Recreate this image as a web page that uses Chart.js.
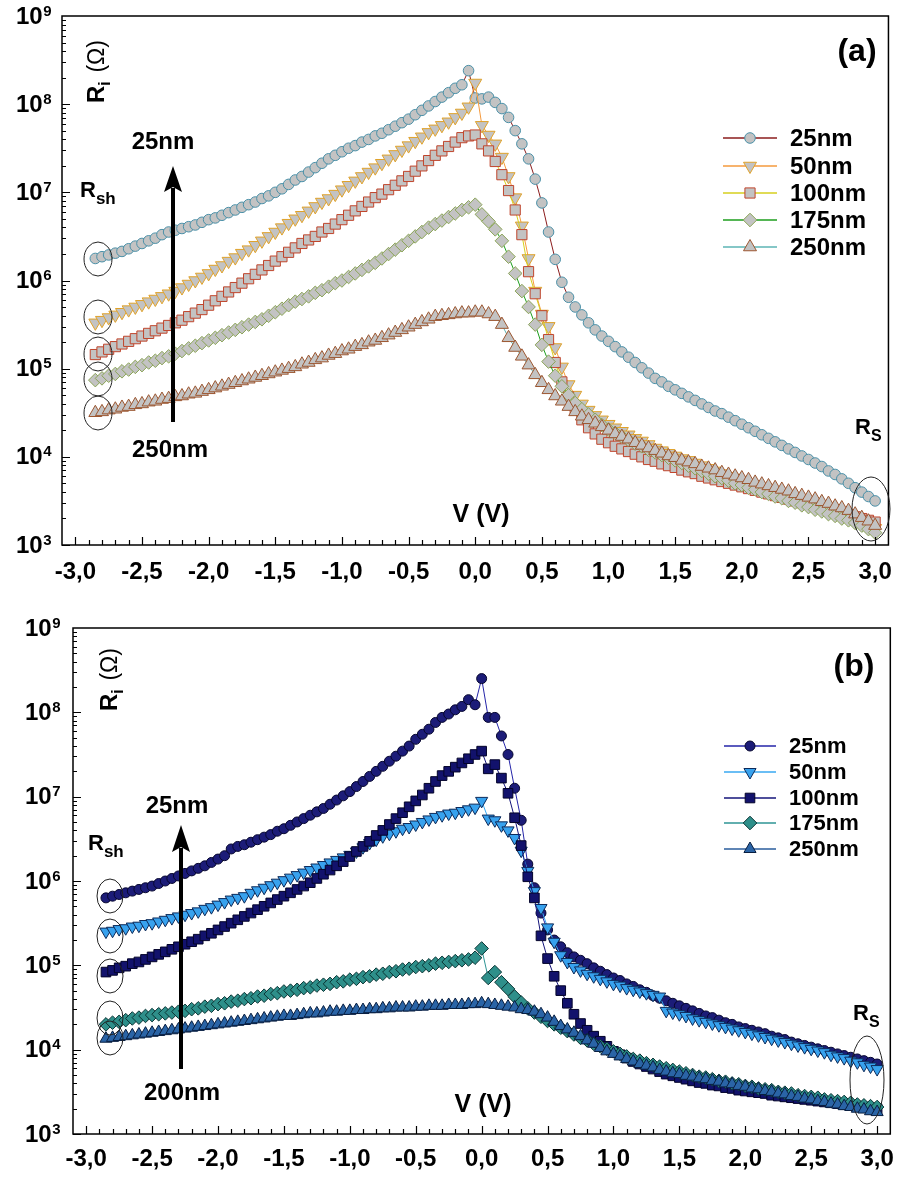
<!DOCTYPE html>
<html>
<head>
<meta charset="utf-8">
<script src="https://cdn.jsdelivr.net/npm/chart.js@4.4.1/dist/chart.umd.min.js"></script>
<style>
  body { margin: 0; background: #fff; }
  #wrap { position: relative; width: 905px; height: 1180px; }
  canvas { position: absolute; left: 0; }
</style>
</head>
<body>
<div id="wrap">
  <canvas id="chartA" width="905" height="600" style="top:0"></canvas>
  <canvas id="chartB" width="905" height="580" style="top:600px"></canvas>
</div>
<script>
// voltage sweep (V)
const volts = [-2.85,-2.8,-2.75,-2.7,-2.65,-2.6,-2.55,-2.5,-2.45,-2.4,
  -2.35,-2.3,-2.25,-2.2,-2.15,-2.1,-2.05,-2,-1.95,-1.9,
  -1.85,-1.8,-1.75,-1.7,-1.65,-1.6,-1.55,-1.5,-1.45,-1.4,
  -1.35,-1.3,-1.25,-1.2,-1.15,-1.1,-1.05,-1,-0.95,-0.9,
  -0.85,-0.8,-0.75,-0.7,-0.65,-0.6,-0.55,-0.5,-0.45,-0.4,
  -0.35,-0.3,-0.25,-0.2,-0.15,-0.1,-0.05,0,0.05,0.1,
  0.15,0.2,0.25,0.3,0.35,0.4,0.45,0.5,0.55,0.6,
  0.65,0.7,0.75,0.8,0.85,0.9,0.95,1,1.05,1.1,
  1.15,1.2,1.25,1.3,1.35,1.4,1.45,1.5,1.55,1.6,
  1.65,1.7,1.75,1.8,1.85,1.9,1.95,2,2.05,2.1,
  2.15,2.2,2.25,2.3,2.35,2.4,2.45,2.5,2.55,2.6,
  2.65,2.7,2.75,2.8,2.85,2.9,2.95,3];

const seriesNames = ['25nm', '50nm', '100nm', '175nm', '250nm'];

// panel (a): log10 of Ri (ohm)
const a25 = [6.25,6.27,6.29,6.31,6.33,6.36,6.39,6.42,6.45,6.48,
  6.52,6.55,6.57,6.59,6.61,6.63,6.66,6.69,6.71,6.74,
  6.77,6.80,6.83,6.86,6.89,6.93,6.96,7.00,7.04,7.09,
  7.14,7.18,7.23,7.28,7.33,7.38,7.42,7.46,7.50,7.53,
  7.57,7.60,7.64,7.67,7.71,7.75,7.79,7.83,7.88,7.93,
  7.98,8.03,8.08,8.13,8.18,8.22,8.38,8.07,8.06,8.08,
  8.02,7.95,7.85,7.70,7.55,7.38,7.15,6.88,6.55,6.24,
  5.98,5.81,5.70,5.61,5.52,5.44,5.37,5.31,5.25,5.19,
  5.13,5.07,5.01,4.95,4.89,4.85,4.80,4.76,4.72,4.68,
  4.64,4.60,4.56,4.52,4.49,4.45,4.41,4.37,4.33,4.29,
  4.25,4.21,4.17,4.13,4.09,4.05,4.01,3.97,3.93,3.89,
  3.84,3.80,3.75,3.70,3.65,3.60,3.55,3.50];
const a50 = [5.52,5.55,5.58,5.61,5.64,5.67,5.70,5.73,5.76,5.79,
  5.82,5.85,5.88,5.92,5.96,6.00,6.04,6.08,6.13,6.17,
  6.22,6.26,6.31,6.35,6.40,6.45,6.50,6.55,6.60,6.65,
  6.70,6.74,6.79,6.84,6.89,6.93,6.98,7.03,7.08,7.13,
  7.18,7.23,7.28,7.33,7.38,7.43,7.48,7.53,7.58,7.63,
  7.68,7.72,7.76,7.80,7.85,7.90,7.97,8.24,7.76,7.65,
  7.55,7.40,7.18,6.94,6.62,6.25,5.88,5.62,5.48,5.24,
  5.02,4.82,4.70,4.60,4.53,4.47,4.42,4.37,4.33,4.29,
  4.25,4.21,4.18,4.14,4.10,4.07,4.04,4.01,3.98,3.96,
  3.93,3.90,3.87,3.84,3.81,3.78,3.76,3.73,3.70,3.67,
  3.64,3.62,3.59,3.56,3.54,3.51,3.48,3.46,3.43,3.41,
  3.38,3.35,3.33,3.30,3.27,3.25,3.22,3.19];
const a100 = [5.16,5.19,5.22,5.25,5.28,5.31,5.34,5.37,5.40,5.43,
  5.46,5.49,5.52,5.55,5.59,5.63,5.67,5.72,5.77,5.82,
  5.87,5.92,5.97,6.02,6.07,6.12,6.17,6.22,6.27,6.32,
  6.37,6.42,6.46,6.50,6.55,6.59,6.64,6.69,6.74,6.79,
  6.84,6.89,6.94,6.98,7.03,7.08,7.13,7.18,7.24,7.30,
  7.36,7.42,7.47,7.52,7.57,7.62,7.64,7.65,7.55,7.47,
  7.35,7.20,7.02,6.80,6.52,6.10,5.85,5.60,5.33,5.07,
  4.85,4.68,4.55,4.42,4.33,4.26,4.20,4.16,4.12,4.09,
  4.06,4.03,4.00,3.97,3.95,3.92,3.90,3.88,3.85,3.83,
  3.81,3.78,3.76,3.74,3.72,3.70,3.68,3.66,3.64,3.62,
  3.60,3.58,3.56,3.54,3.52,3.50,3.48,3.46,3.44,3.42,
  3.40,3.38,3.36,3.34,3.32,3.30,3.28,3.26];
const a175 = [4.87,4.89,4.92,4.94,4.97,4.99,5.02,5.04,5.07,5.09,
  5.12,5.14,5.17,5.20,5.23,5.26,5.29,5.32,5.35,5.38,
  5.41,5.44,5.47,5.50,5.53,5.56,5.60,5.64,5.68,5.72,
  5.76,5.79,5.82,5.86,5.89,5.93,5.97,6.00,6.04,6.08,
  6.12,6.16,6.20,6.25,6.30,6.35,6.40,6.45,6.50,6.55,
  6.60,6.64,6.68,6.72,6.76,6.80,6.83,6.86,6.75,6.67,
  6.58,6.45,6.27,6.08,5.88,5.70,5.50,5.27,5.08,4.92,
  4.80,4.70,4.61,4.54,4.48,4.42,4.36,4.31,4.27,4.23,
  4.19,4.15,4.12,4.08,4.05,4.02,3.99,3.96,3.93,3.90,
  3.87,3.84,3.81,3.78,3.76,3.73,3.70,3.68,3.65,3.63,
  3.60,3.58,3.55,3.53,3.50,3.48,3.45,3.43,3.40,3.38,
  3.35,3.33,3.30,3.28,3.25,3.22,3.18,3.14];
const a250 = [4.50,4.51,4.53,4.54,4.56,4.57,4.59,4.60,4.62,4.63,
  4.65,4.66,4.68,4.69,4.71,4.72,4.74,4.76,4.78,4.80,
  4.82,4.84,4.86,4.88,4.90,4.92,4.94,4.96,4.98,5.00,
  5.02,5.05,5.07,5.10,5.12,5.15,5.17,5.20,5.22,5.25,
  5.27,5.30,5.32,5.35,5.38,5.41,5.44,5.47,5.50,5.53,
  5.56,5.59,5.60,5.61,5.62,5.63,5.63,5.64,5.64,5.62,
  5.59,5.50,5.35,5.24,5.14,5.04,4.93,4.84,4.76,4.69,
  4.63,4.57,4.51,4.46,4.42,4.38,4.34,4.30,4.26,4.23,
  4.20,4.16,4.13,4.10,4.07,4.04,4.01,3.99,3.96,3.94,
  3.92,3.89,3.87,3.85,3.82,3.80,3.78,3.76,3.74,3.71,
  3.69,3.67,3.65,3.63,3.61,3.58,3.56,3.54,3.52,3.49,
  3.47,3.44,3.42,3.39,3.35,3.31,3.27,3.22];

// panel (b): log10 of Ri (ohm)
const b25 = [5.80,5.82,5.84,5.86,5.88,5.90,5.92,5.94,5.97,6.00,
  6.03,6.06,6.09,6.12,6.15,6.18,6.22,6.26,6.30,6.38,
  6.41,6.43,6.46,6.49,6.52,6.55,6.59,6.62,6.66,6.70,
  6.74,6.78,6.82,6.86,6.91,6.96,7.01,7.06,7.12,7.18,
  7.24,7.30,7.36,7.42,7.48,7.54,7.60,7.68,7.74,7.80,
  7.88,7.94,7.98,8.03,8.07,8.15,8.09,8.40,7.94,7.94,
  7.72,7.50,7.10,6.72,6.20,5.92,5.62,5.42,5.30,5.22,
  5.15,5.10,5.06,5.02,4.97,4.93,4.89,4.85,4.82,4.78,
  4.75,4.71,4.68,4.64,4.61,4.58,4.55,4.52,4.49,4.46,
  4.43,4.40,4.38,4.35,4.32,4.30,4.27,4.25,4.23,4.21,
  4.19,4.16,4.14,4.12,4.09,4.07,4.05,4.03,4.01,3.99,
  3.97,3.95,3.93,3.91,3.89,3.87,3.85,3.83];
const b50 = [5.40,5.41,5.43,5.44,5.46,5.47,5.49,5.50,5.52,5.54,
  5.56,5.58,5.60,5.62,5.64,5.67,5.69,5.72,5.75,5.78,
  5.80,5.82,5.86,5.89,5.92,5.95,5.98,6.01,6.04,6.07,
  6.10,6.13,6.16,6.19,6.22,6.25,6.28,6.31,6.35,6.40,
  6.45,6.49,6.53,6.56,6.59,6.62,6.64,6.67,6.70,6.73,
  6.76,6.78,6.80,6.81,6.83,6.85,6.87,6.95,6.74,6.72,
  6.66,6.60,6.51,6.36,6.12,5.88,5.68,5.45,5.28,5.12,
  5.04,4.98,4.94,4.90,4.87,4.84,4.81,4.78,4.76,4.73,
  4.71,4.69,4.67,4.65,4.63,4.46,4.44,4.42,4.40,4.37,
  4.35,4.33,4.31,4.29,4.27,4.25,4.23,4.21,4.19,4.17,
  4.15,4.13,4.11,4.09,4.07,4.05,4.03,4.01,3.99,3.97,
  3.94,3.92,3.90,3.87,3.85,3.82,3.80,3.77];
const b100 = [4.92,4.94,4.97,4.99,5.02,5.04,5.07,5.10,5.13,5.16,
  5.19,5.22,5.25,5.28,5.31,5.35,5.38,5.42,5.46,5.50,
  5.54,5.58,5.62,5.66,5.70,5.74,5.78,5.82,5.86,5.90,
  5.94,5.98,6.03,6.08,6.13,6.18,6.23,6.29,6.35,6.41,
  6.47,6.54,6.60,6.67,6.74,6.81,6.88,6.95,7.02,7.10,
  7.18,7.25,7.30,7.35,7.40,7.45,7.50,7.54,7.33,7.38,
  7.22,7.04,6.75,6.42,6.05,5.80,5.35,5.08,4.87,4.70,
  4.55,4.42,4.31,4.23,4.16,4.10,4.04,3.98,3.94,3.90,
  3.86,3.83,3.80,3.77,3.74,3.71,3.69,3.67,3.65,3.63,
  3.61,3.60,3.58,3.57,3.55,3.54,3.52,3.51,3.50,3.49,
  3.48,3.46,3.45,3.44,3.43,3.42,3.41,3.40,3.39,3.38,
  3.37,3.36,3.35,3.34,3.33,3.32,3.31,3.30];
const b175 = [4.30,4.32,4.33,4.35,4.37,4.38,4.40,4.41,4.42,4.43,
  4.44,4.45,4.46,4.48,4.49,4.51,4.52,4.54,4.55,4.57,
  4.58,4.60,4.61,4.63,4.64,4.66,4.67,4.69,4.70,4.71,
  4.73,4.74,4.76,4.77,4.78,4.80,4.81,4.83,4.84,4.86,
  4.87,4.89,4.90,4.92,4.93,4.95,4.96,4.98,4.99,5.00,
  5.02,5.03,5.04,5.05,5.06,5.07,5.09,5.20,4.85,4.92,
  4.80,4.72,4.63,4.56,4.49,4.44,4.39,4.34,4.30,4.26,
  4.22,4.18,4.14,4.11,4.07,4.04,4.01,3.98,3.95,3.92,
  3.89,3.87,3.84,3.82,3.80,3.78,3.76,3.74,3.72,3.70,
  3.68,3.67,3.65,3.63,3.62,3.60,3.59,3.57,3.56,3.54,
  3.53,3.52,3.50,3.49,3.48,3.46,3.45,3.44,3.43,3.41,
  3.40,3.39,3.38,3.37,3.35,3.34,3.33,3.32];
const b250 = [4.13,4.14,4.15,4.16,4.17,4.18,4.19,4.20,4.21,4.22,
  4.23,4.24,4.25,4.26,4.27,4.28,4.29,4.30,4.31,4.32,
  4.33,4.34,4.35,4.36,4.37,4.38,4.39,4.40,4.40,4.41,
  4.42,4.43,4.43,4.44,4.45,4.45,4.46,4.46,4.47,4.47,
  4.48,4.48,4.49,4.49,4.50,4.50,4.50,4.51,4.51,4.52,
  4.52,4.52,4.53,4.53,4.53,4.54,4.54,4.55,4.54,4.53,
  4.52,4.51,4.50,4.48,4.47,4.45,4.42,4.38,4.33,4.28,
  4.24,4.20,4.16,4.11,4.07,4.02,3.98,3.95,3.92,3.89,
  3.86,3.83,3.81,3.79,3.76,3.74,3.72,3.71,3.69,3.68,
  3.66,3.65,3.63,3.62,3.60,3.59,3.57,3.56,3.54,3.53,
  3.51,3.50,3.48,3.47,3.45,3.44,3.42,3.41,3.39,3.38,
  3.36,3.35,3.33,3.32,3.30,3.29,3.27,3.26];

// axis ticks
const xTicks = [-3, -2.5, -2, -1.5, -1, -0.5, 0, 0.5, 1, 1.5, 2, 2.5, 3];
const yTicks = [1e3, 1e4, 1e5, 1e6, 1e7, 1e8, 1e9];

const FONT = '"Liberation Sans", Arial, sans-serif';
Chart.defaults.font.family = FONT;
Chart.defaults.color = '#000';

const styleA = [
  { shape: 'circle',  r: 5.3, rot: 0,   fill: '#c3c3c3', edge: '#4a90a8', line: '#8b1c1c' },
  { shape: 'triangle', r: 7.5, rot: 180, fill: '#c3c3c3', edge: '#e0a22a', line: '#f59a3c' },
  { shape: 'rect',    r: 7.2, rot: 0,   fill: '#c3c3c3', edge: '#c0452c', line: '#d6cf1e' },
  { shape: 'rectRot', r: 6.8, rot: 0,   fill: '#c3c3c3', edge: '#8aa456', line: '#1c9e1c' },
  { shape: 'triangle', r: 7.5, rot: 0,  fill: '#c3c3c3', edge: '#9c5630', line: '#5cb4b4' }
];
const styleB = [
  { shape: 'circle',  r: 5,   rot: 0,   fill: '#1c1c78', edge: '#06062e', line: '#2424a8' },
  { shape: 'triangle', r: 7,  rot: 180, fill: '#38a2ee', edge: '#0c2a5a', line: '#38a8f2' },
  { shape: 'rect',    r: 6.8, rot: 0,   fill: '#12126c', edge: '#04042a', line: '#14147a' },
  { shape: 'rectRot', r: 6.8, rot: 0,   fill: '#2e8f8a', edge: '#0a3434', line: '#2e9494' },
  { shape: 'triangle', r: 7,  rot: 0,   fill: '#2a64a6', edge: '#081e40', line: '#2a5c9c' }
];

function toPoints(logs) {
  return logs.map((l, i) => ({ x: volts[i], y: Math.pow(10, l) }));
}

function buildSets(list, styles) {
  return list.map((s, i) => ({
    label: seriesNames[i],
    data: toPoints(s),
    borderColor: styles[i].line,
    borderWidth: 1,
    fill: false,
    tension: 0,
    pointStyle: styles[i].shape,
    pointRadius: styles[i].r,
    pointRotation: styles[i].rot,
    pointBackgroundColor: styles[i].fill,
    pointBorderColor: styles[i].edge,
    pointBorderWidth: 1,
    order: 5 - i
  }));
}

function marker(ctx, s, x, y) {
  const r = s.r;
  ctx.save();
  ctx.fillStyle = s.fill;
  ctx.strokeStyle = s.edge;
  ctx.lineWidth = 1;
  ctx.beginPath();
  if (s.shape === 'circle') {
    ctx.arc(x, y, r, 0, Math.PI * 2);
  } else if (s.shape === 'rect') {
    const h = r * Math.SQRT1_2;
    ctx.rect(x - h, y - h, 2 * h, 2 * h);
  } else if (s.shape === 'rectRot') {
    ctx.moveTo(x, y - r); ctx.lineTo(x + r, y); ctx.lineTo(x, y + r); ctx.lineTo(x - r, y); ctx.closePath();
  } else {
    const d = s.rot ? -1 : 1;
    ctx.moveTo(x, y - d * r);
    ctx.lineTo(x + r * 0.866, y + d * r / 2);
    ctx.lineTo(x - r * 0.866, y + d * r / 2);
    ctx.closePath();
  }
  ctx.fill();
  ctx.stroke();
  ctx.restore();
}

function drawLegend(ctx, styles, x0, x1, xt, ys, size) {
  ctx.save();
  styles.forEach((s, i) => {
    ctx.strokeStyle = s.line;
    ctx.lineWidth = 1.5;
    ctx.beginPath(); ctx.moveTo(x0, ys[i]); ctx.lineTo(x1, ys[i]); ctx.stroke();
    marker(ctx, s, (x0 + x1) / 2, ys[i]);
    ctx.fillStyle = '#000';
    ctx.font = 'bold ' + size + 'px ' + FONT;
    ctx.textAlign = 'left';
    ctx.textBaseline = 'middle';
    ctx.fillText(seriesNames[i], xt, ys[i] + 1);
  });
  ctx.restore();
}

function subText(ctx, main, sub, x, y, size, subSize, drop) {
  ctx.font = 'bold ' + size + 'px ' + FONT;
  ctx.textAlign = 'left';
  ctx.textBaseline = 'alphabetic';
  ctx.fillText(main, x, y);
  const w = ctx.measureText(main).width;
  ctx.font = 'bold ' + subSize + 'px ' + FONT;
  ctx.fillText(sub, x + w, y + drop);
}

function yTitle(ctx, x, y) {
  ctx.save();
  ctx.translate(x, y);
  ctx.rotate(-Math.PI / 2);
  ctx.fillStyle = '#000';
  subText(ctx, 'R', 'i', 0, 0, 24, 16, 6);
  ctx.font = '23px ' + FONT;
  ctx.fillText(' (Ω)', 24, 0);
  ctx.restore();
}

function centerText(ctx, txt, x, y, size) {
  ctx.font = 'bold ' + size + 'px ' + FONT;
  ctx.textAlign = 'center';
  ctx.textBaseline = 'middle';
  ctx.fillText(txt, x, y);
}

function arrowUp(ctx, x, yBottom, yTip, headLen, headHalf) {
  ctx.save();
  ctx.strokeStyle = '#000';
  ctx.fillStyle = '#000';
  ctx.lineWidth = 4;
  ctx.beginPath(); ctx.moveTo(x, yBottom); ctx.lineTo(x, yTip + headLen - 4); ctx.stroke();
  ctx.beginPath();
  ctx.moveTo(x, yTip);
  ctx.lineTo(x + headHalf, yTip + headLen);
  ctx.lineTo(x, yTip + headLen - 5);
  ctx.lineTo(x - headHalf, yTip + headLen);
  ctx.closePath();
  ctx.fill();
  ctx.restore();
}

function ellipse(ctx, cx, cy, rx, ry) {
  ctx.save();
  ctx.strokeStyle = '#222';
  ctx.lineWidth = 1;
  ctx.beginPath();
  ctx.ellipse(cx, cy, rx, ry, 0, 0, Math.PI * 2);
  ctx.stroke();
  ctx.restore();
}

// box, inward major/minor ticks and 10^n labels
function frameFor(ypad) {
  return {
    id: 'frame',
    afterDraw(chart) {
      const { ctx, chartArea: a } = chart;
      const x = chart.scales.x, y = chart.scales.y;
      ctx.save();
      ctx.strokeStyle = '#000';
      ctx.lineWidth = 1.5;
      ctx.strokeRect(a.left, a.top, a.right - a.left, a.bottom - a.top);
      ctx.lineWidth = 1.2;
      ctx.beginPath();
      for (let k = -30; k <= 30; k++) {
        const px = Math.round(x.getPixelForValue(k / 10)) + 0.5;
        const len = k % 5 === 0 ? 8 : 5;
        ctx.moveTo(px, a.bottom);
        ctx.lineTo(px, a.bottom - len);
      }
      for (let e = 3; e < 9; e++) {
        for (let m = 1; m <= 9; m++) {
          const py = Math.round(y.getPixelForValue(m * Math.pow(10, e))) + 0.5;
          const len = m === 1 ? 8 : 4;
          ctx.moveTo(a.left, py);
          ctx.lineTo(a.left + len, py);
        }
      }
      ctx.stroke();
      // y labels: "10" with raised exponent
      ctx.fillStyle = '#000';
      ctx.textAlign = 'left';
      yTicks.forEach(v => {
        const py = y.getPixelForValue(v);
        const ex = String(Math.round(Math.log10(v)));
        ctx.font = 'bold 24px ' + FONT;
        const wb = ctx.measureText('10').width;
        ctx.font = 'bold 15px ' + FONT;
        const we = ctx.measureText(ex).width;
        const x0 = a.left - ypad - wb - we;
        ctx.font = 'bold 24px ' + FONT;
        ctx.textBaseline = 'middle';
        ctx.fillText('10', x0, py + 1);
        ctx.font = 'bold 15px ' + FONT;
        ctx.textBaseline = 'alphabetic';
        ctx.fillText(ex, x0 + wb + 0.5, py - 0.5);
      });
      ctx.restore();
    }
  };
}

function makeChart(id, sets, box, notes) {
  return new Chart(document.getElementById(id), {
    type: 'line',
    data: { datasets: sets },
    options: {
      responsive: false,
      animation: false,
      devicePixelRatio: 1,
      events: [],
      layout: { padding: { top: box.top, right: box.right, left: 0, bottom: 0 } },
      plugins: { legend: { display: false }, tooltip: { enabled: false } },
      scales: {
        x: {
          type: 'linear', min: -3.1, max: 3.1,
          afterBuildTicks: s => { s.ticks = xTicks.map(v => ({ value: v })); },
          afterFit: s => { s.height = box.xh; },
          grid: { display: false, drawTicks: false },
          border: { display: false },
          ticks: {
            padding: box.xpad, autoSkip: false, maxRotation: 0,
            font: { size: 24, weight: 'bold' }, color: '#000',
            callback: v => (Math.abs(v) < 1e-9 ? 0 : v).toFixed(1).replace('.', ',')
          }
        },
        y: {
          type: 'logarithmic', min: 1e3, max: 1e9,
          afterBuildTicks: s => { s.ticks = yTicks.map(v => ({ value: v })); },
          afterFit: s => { s.width = box.left; },
          grid: { display: false, drawTicks: false },
          border: { display: false },
          ticks: { display: false }
        }
      }
    },
    plugins: [frameFor(box.ypad), { id: 'notes', afterDraw: c => notes(c.ctx) }]
  });
}

makeChart('chartA', buildSets([a25, a50, a100, a175, a250], styleA),
  { top: 16, right: 12, left: 62, xh: 55, xpad: 13, ypad: 11 },
  ctx => {
    ctx.save();
    ctx.fillStyle = '#000';
    yTitle(ctx, 104, 103);
    centerText(ctx, '(a)', 857, 52, 32);
    centerText(ctx, 'V (V)', 481, 515, 25);
    centerText(ctx, '25nm', 163, 142, 24);
    centerText(ctx, '250nm', 170, 450, 24);
    arrowUp(ctx, 173, 422, 166, 26, 9);
    subText(ctx, 'R', 'sh', 80, 197, 22, 17, 7);
    subText(ctx, 'R', 'S', 855, 434, 22, 16, 7);
    [259, 317, 354, 379, 413].forEach(cy => ellipse(ctx, 98, cy, 14, 17));
    ellipse(ctx, 871, 509, 19, 32);
    drawLegend(ctx, styleA, 723, 777, 790, [138, 166, 193, 220, 247], 24);
    ctx.restore();
  });

makeChart('chartB', buildSets([b25, b50, b100, b175, b250], styleB),
  { top: 28, right: 12, left: 73, xh: 46, xpad: 11, ypad: 13 },
  ctx => {
    ctx.save();
    ctx.fillStyle = '#000';
    yTitle(ctx, 117, 111);
    centerText(ctx, '(b)', 854, 67, 32);
    centerText(ctx, 'V (V)', 483, 505, 25);
    centerText(ctx, '25nm', 177, 206, 24);
    centerText(ctx, '200nm', 182, 493, 24);
    arrowUp(ctx, 181, 469, 225, 27, 9);
    subText(ctx, 'R', 'sh', 88, 250, 22, 17, 7);
    subText(ctx, 'R', 'S', 853, 420, 22, 16, 7);
    [296, 336, 376, 418, 438].forEach(cy => ellipse(ctx, 110, cy, 13, 17));
    ellipse(ctx, 867, 480, 17, 44);
    drawLegend(ctx, styleB, 724, 776, 789, [146, 172, 198, 223, 249], 22);
    ctx.restore();
  });
</script>
</body>
</html>
